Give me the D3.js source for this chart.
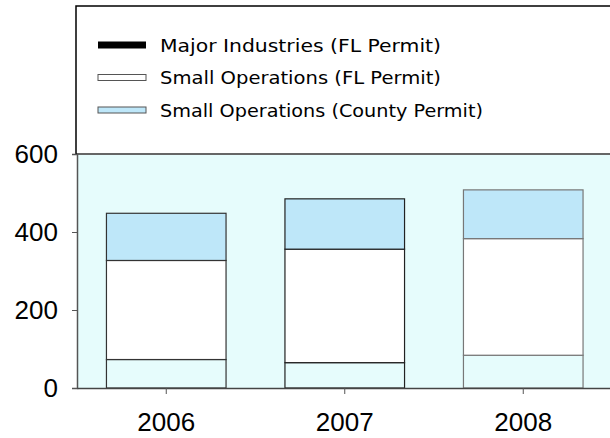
<!DOCTYPE html>
<html lang="en">
<head>
<meta charset="UTF-8">
<title>Permits</title>
<style>
  body { margin: 0; background: #fff; }
  svg { display: block; }
</style>
</head>
<body>
<script src="https://d3js.org/d3.v7.min.js"></script>
<script>
// data
var years = ["2006", "2007", "2008"];
var majorFL = [73, 65, 84];
var smallFL = [254, 291, 299];
var smallCounty = [121, 129, 125];
var seriesNames = ["Major Industries (FL Permit)", "Small Operations (FL Permit)", "Small Operations (County Permit)"];
var yTicks = [0, 200, 400, 600];

var width = 610, height = 438;
var plotBg = "#e6fcfc";
var county = "#bee7f9";
var axisFont = "'Liberation Sans', Arial, sans-serif";

var svg = d3.select("body").append("svg")
    .attr("width", width)
    .attr("height", height);

var rows = years.map(function(y, i) {
  return {year: y, major: majorFL[i], small: smallFL[i], county: smallCounty[i]};
});
var keys = ["major", "small", "county"];
var stacked = d3.stack().keys(keys)(rows);

var x = d3.scaleBand().domain(years).range([77, 612.5]).paddingInner(0.33).paddingOuter(0.165);
var y = d3.scaleLinear().domain([0, 600]).range([388, 154]);

// legend frame (white, top part)
svg.append("rect")
    .attr("x", 76).attr("y", 6)
    .attr("width", 560).attr("height", 148)
    .attr("fill", "#fff")
    .attr("stroke", "#000").attr("stroke-width", 1.5);

// plot background
svg.append("rect")
    .attr("x", 77).attr("y", y(600))
    .attr("width", 540).attr("height", y(0) - y(600))
    .attr("fill", plotBg);

var fills = {major: plotBg, small: "#ffffff", county: county};
var strokes = ["#333", "#222", "#777"];

svg.append("g").selectAll("g")
  .data(stacked)
  .join("g")
    .attr("fill", function(d) { return fills[d.key]; })
  .selectAll("rect")
  .data(function(d) { return d; })
  .join("rect")
    .attr("x", function(d) { return x(d.data.year); })
    .attr("y", function(d) { return y(d[1]); })
    .attr("width", x.bandwidth())
    .attr("height", function(d) { return y(d[0]) - y(d[1]); })
    .attr("stroke", function(d, i) { return strokes[i]; })
    .attr("stroke-width", 1.2);

// top border of plot (600 line)
svg.append("line")
    .attr("x1", 77).attr("x2", 612)
    .attr("y1", y(600)).attr("y2", y(600))
    .attr("stroke", "#666").attr("stroke-width", 2);

// y axis
var yAxis = svg.append("g")
    .attr("transform", "translate(77,0)")
    .call(d3.axisLeft(y).tickValues(yTicks).tickSize(5).tickPadding(14).tickFormat(d3.format("d")));
yAxis.select(".domain").attr("stroke", "#555").attr("stroke-width", 1.5);
yAxis.selectAll(".tick line").attr("stroke", "#555");
yAxis.selectAll("text")
    .attr("font-family", axisFont)
    .attr("font-size", 26).attr("fill", "#000");

// x axis
var xAxis = svg.append("g")
    .attr("transform", "translate(0," + y(0) + ")")
    .call(d3.axisBottom(x).tickSize(6).tickPadding(19).tickSizeOuter(0));
xAxis.select(".domain").attr("stroke", "#444").attr("stroke-width", 1.5);
xAxis.selectAll(".tick line").attr("stroke", "#555");
xAxis.selectAll("text")
    .attr("font-family", axisFont)
    .attr("font-size", 26).attr("fill", "#000");

// legend
var legendFills = ["#000", "#fff", county];
var legendWidths = [281, 281, 323];
var lg = svg.append("g").selectAll("g")
  .data(seriesNames)
  .join("g")
    .attr("transform", function(d, i) { return "translate(98," + (45 + i * 32.5) + ")"; });
lg.append("rect")
    .attr("x", 0).attr("y", function(d, i) { return i === 0 ? -3.5 : -3; })
    .attr("width", 48).attr("height", function(d, i) { return i === 0 ? 7 : 6; })
    .attr("fill", function(d, i) { return legendFills[i]; })
    .attr("stroke", function(d, i) { return i === 0 ? "none" : "#555"; });
lg.append("text")
    .attr("x", 62).attr("y", 6.5)
    .attr("font-family", "'Comic Sans MS', 'DejaVu Sans', sans-serif")
    .attr("font-size", 18)
    .attr("textLength", function(d, i) { return legendWidths[i]; })
    .attr("lengthAdjust", "spacingAndGlyphs")
    .attr("fill", "#000")
    .text(function(d) { return d; });
</script>
</body>
</html>
